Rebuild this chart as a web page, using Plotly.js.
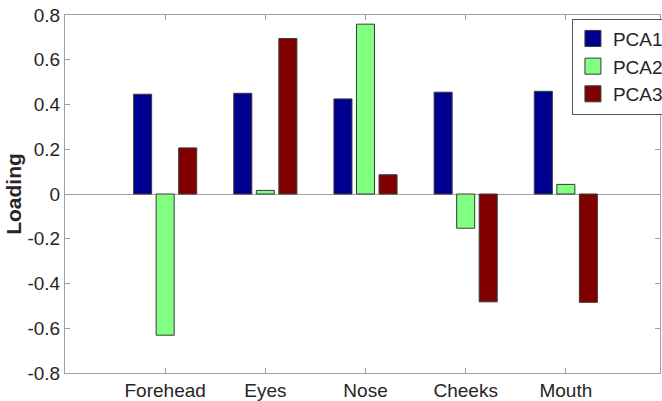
<!DOCTYPE html>
<html>
<head>
<meta charset="utf-8">
<script src="https://cdn.plot.ly/plotly-3.0.1.min.js"></script>
<style>html,body{margin:0;padding:0;background:#fff;}#chart{width:662px;height:401px;}</style>
</head>
<body>
<div id="chart"></div>
<script>
var categories = ["Forehead", "Eyes", "Nose", "Cheeks", "Mouth"];
var seriesNames = ["PCA1", "PCA2", "PCA3"];
var pca1 = [0.446, 0.450, 0.425, 0.455, 0.459];
var pca2 = [-0.631, 0.016, 0.759, -0.153, 0.043];
var pca3 = [0.206, 0.695, 0.086, -0.482, -0.484];
var yTicks = [-0.8, -0.6, -0.4, -0.2, 0, 0.2, 0.4, 0.6, 0.8];
var yTickText = ["-0.8", "-0.6", "-0.4", "-0.2", "0", "0.2", "0.4", "0.6", "0.8"];

var colors = ["#000090", "#80ff80", "#800000"];
var values = [pca1, pca2, pca3];
var idx = categories.map(function (c, i) { return i; });

var traces = values.map(function (v, k) {
  return {
    type: "bar",
    name: seriesNames[k],
    x: idx,
    y: v,
    showlegend: false,
    marker: { color: colors[k], line: { color: "#3a3a3a", width: 1 } }
  };
});
// legend entries (no data, only the legend swatch)
seriesNames.forEach(function (n, k) {
  traces.push({
    type: "scatter", mode: "markers", name: n,
    x: [null], y: [null],
    marker: { symbol: "square", size: 16, color: colors[k], line: { color: "#3a3a3a", width: 1 } }
  });
});

var font = { family: "Liberation Sans, Arial, sans-serif", size: 19, color: "#262626" };

var layout = {
  width: 662, height: 401,
  margin: { l: 65, r: 2, t: 15, b: 28, pad: 0, autoexpand: false },
  paper_bgcolor: "#ffffff", plot_bgcolor: "#ffffff",
  font: font,
  barmode: "group",
  bargap: 0.325,
  bargroupgap: 0.2,
  showlegend: true,
  legend: {
    x: 0.852, xanchor: "left", y: 0.99, yanchor: "top",
    bgcolor: "#ffffff", bordercolor: "#555555", borderwidth: 1,
    font: font, tracegroupgap: 0, itemwidth: 30, itemsizing: "trace"
  },
  xaxis: {
    range: [-1, 4.94],
    tickmode: "array", tickvals: idx, ticktext: categories,
    ticks: "inside", ticklen: 5, tickcolor: "#a0a0a0",
    showline: true, linecolor: "#a0a0a0", linewidth: 1, mirror: "ticks",
    showgrid: false, zeroline: false, fixedrange: true
  },
  yaxis: {
    range: [-0.8, 0.8],
    tickmode: "array", tickvals: yTicks, ticktext: yTickText,
    ticks: "inside", ticklen: 5, tickcolor: "#a0a0a0",
    showline: true, linecolor: "#a0a0a0", linewidth: 1, mirror: "ticks",
    showgrid: false, zeroline: true, zerolinecolor: "#a0a0a0", zerolinewidth: 1,
    title: { text: "<b>Loading</b>", font: { family: "Liberation Sans, Arial, sans-serif", size: 21, color: "#262626" }, standoff: 0 },
    fixedrange: true
  }
};

Plotly.newPlot("chart", traces, layout, { staticPlot: true, displayModeBar: false });
</script>
</body>
</html>
